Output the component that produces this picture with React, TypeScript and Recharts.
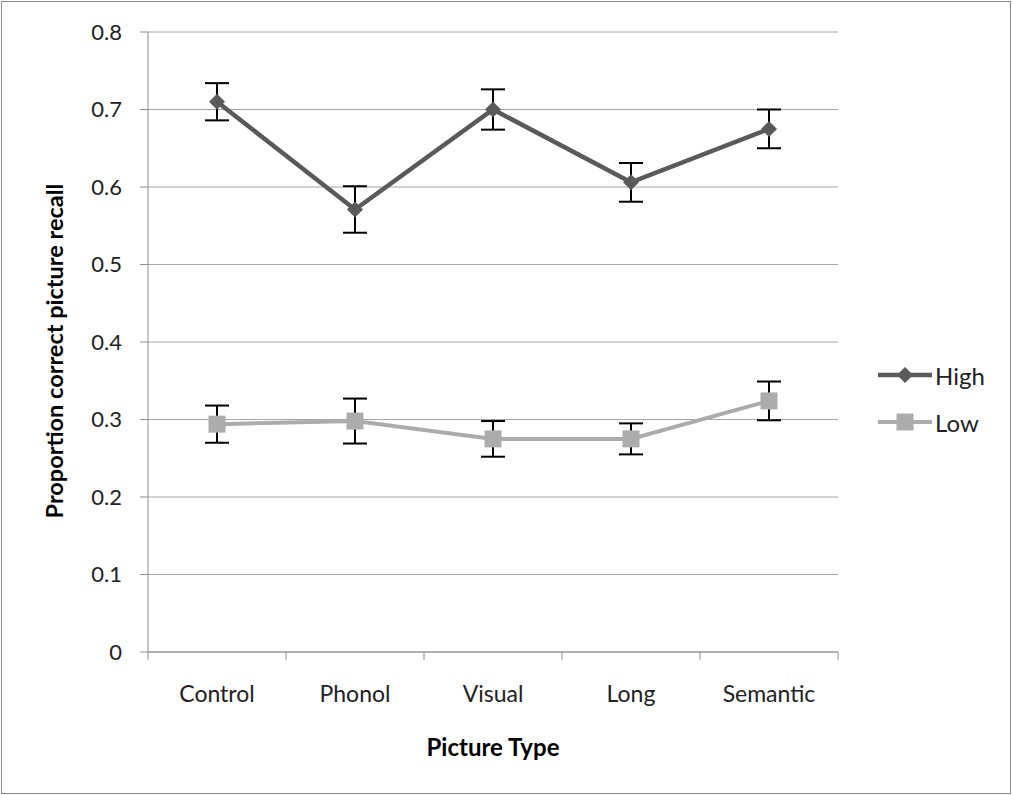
import React from 'react';
import { LineChart, Line, XAxis, YAxis, CartesianGrid, ErrorBar, Legend } from 'recharts';

const categories = ['Control', 'Phonol', 'Visual', 'Long', 'Semantic'];
const highValues = [0.71, 0.571, 0.7, 0.606, 0.675];
const highErrors = [0.024, 0.03, 0.026, 0.025, 0.025];
const lowValues = [0.294, 0.298, 0.275, 0.275, 0.324];
const lowErrors = [0.024, 0.029, 0.023, 0.02, 0.025];
const yTicks = [0, 0.1, 0.2, 0.3, 0.4, 0.5, 0.6, 0.7, 0.8];

const W = 1012;
const H = 795;
const MARGIN = { top: 32, right: 174, bottom: 83, left: 0 };
const Y_AXIS_W = 148;
const X_AXIS_H = 60;
const PLOT_W = W - MARGIN.left - MARGIN.right - Y_AXIS_W;
const BAND = PLOT_W / categories.length;
const FONT = 'Lato, "Liberation Sans", sans-serif';
const HIGH_COLOR = '#5a5a5a';
const LOW_COLOR = '#acacac';

const data = categories.map((c, i) => ({
  name: c,
  high: highValues[i],
  highErr: highErrors[i],
  low: lowValues[i],
  lowErr: lowErrors[i],
}));

const Diamond = (props: any) => {
  const { cx, cy } = props;
  if (cx == null || cy == null) return null;
  return <polygon points={`${cx},${cy - 8} ${cx + 8},${cy} ${cx},${cy + 8} ${cx - 8},${cy}`} fill={HIGH_COLOR} />;
};

const Square = (props: any) => {
  const { cx, cy } = props;
  if (cx == null || cy == null) return null;
  return <rect x={cx - 8.5} y={cy - 8.5} width={17} height={17} fill={LOW_COLOR} />;
};

const XTick = (props: any) => {
  const { x, y, payload, index } = props;
  return (
    <g>
      <line x1={x - BAND / 2} x2={x - BAND / 2} y1={y - 8} y2={y} stroke="#8c8c8c" />
      {index === categories.length - 1 && (
        <line x1={x + BAND / 2} x2={x + BAND / 2} y1={y - 8} y2={y} stroke="#8c8c8c" />
      )}
      <text x={x} y={y + 33} textAnchor="middle" dominantBaseline="central" fontSize={23} fill="#222" fontFamily={FONT}>
        {payload.value}
      </text>
    </g>
  );
};

const YTitle = (props: any) => {
  const vb = props.viewBox;
  const x = vb.x + 54;
  const y = vb.y + vb.height / 2 + 9;
  return (
    <text x={x} y={y} transform={`rotate(-90 ${x} ${y})`} textAnchor="middle" dominantBaseline="central"
      fontSize={23.5} fontWeight="bold" fill="#000" fontFamily={FONT}>
      Proportion correct picture recall
    </text>
  );
};

const XTitle = (props: any) => {
  const vb = props.viewBox;
  return (
    <text x={vb.x + vb.width / 2} y={vb.y + 94} textAnchor="middle" dominantBaseline="central" fontSize={24}
      fontWeight="bold" fill="#000" fontFamily={FONT}>
      Picture Type
    </text>
  );
};

const LegendContent = () => (
  <svg width={140} height={90}>
    <line x1={8} x2={62} y1={18} y2={18} stroke={HIGH_COLOR} strokeWidth={4.5} />
    <polygon points="35,10 43,18 35,26 27,18" fill={HIGH_COLOR} />
    <text x={65} y={18} dominantBaseline="central" fontSize={24} fill="#222" fontFamily={FONT}>High</text>
    <line x1={8} x2={62} y1={65} y2={65} stroke={LOW_COLOR} strokeWidth={4} />
    <rect x={26.5} y={56.5} width={17} height={17} fill={LOW_COLOR} />
    <text x={65} y={65} dominantBaseline="central" fontSize={24} fill="#222" fontFamily={FONT}>Low</text>
  </svg>
);

export default function App() {
  return (
    <div style={{ position: 'absolute', left: 0, top: 0, width: W, height: H, background: '#fff' }}>
      <LineChart width={W} height={H} data={data} margin={MARGIN}>
        <CartesianGrid vertical={false} stroke="#a6a6a6" />
        <XAxis
          dataKey="name"
          height={X_AXIS_H}
          stroke="#8c8c8c"
          tickLine={false}
          tickSize={8}
          tickMargin={0}
          tick={<XTick />}
          interval={0}
          padding={{ left: BAND / 2, right: BAND / 2 }}
          label={<XTitle />}
        />
        <YAxis
          width={Y_AXIS_W}
          domain={[0, 0.8]}
          ticks={yTicks}
          stroke="#8c8c8c"
          tickSize={8}
          tickMargin={18}
          tick={{ fontSize: 22, fill: '#222', fontFamily: FONT }}
          tickFormatter={(v: number) => (v === 0 ? '0' : v.toFixed(1))}
          label={<YTitle />}
        />
        <Legend
          content={<LegendContent />}
          layout="horizontal"
          verticalAlign="middle"
          align="center"
          wrapperStyle={{ left: 870, top: 357, width: 140, height: 90 }}
        />
        <Line
          dataKey="high"
          stroke={HIGH_COLOR}
          strokeWidth={4.5}
          dot={<Diamond />}
          activeDot={false}
          isAnimationActive={false}
        >
          <ErrorBar dataKey="highErr" direction="y" width={12} stroke="#000" strokeWidth={2} />
        </Line>
        <Line
          dataKey="low"
          stroke={LOW_COLOR}
          strokeWidth={4}
          dot={<Square />}
          activeDot={false}
          isAnimationActive={false}
        >
          <ErrorBar dataKey="lowErr" direction="y" width={12} stroke="#000" strokeWidth={2} />
        </Line>
      </LineChart>
      <div style={{ position: 'absolute', left: 1, top: 1, width: W - 4, height: H - 4, border: '1px solid #8a8a8a', pointerEvents: 'none' }} />
    </div>
  );
}
